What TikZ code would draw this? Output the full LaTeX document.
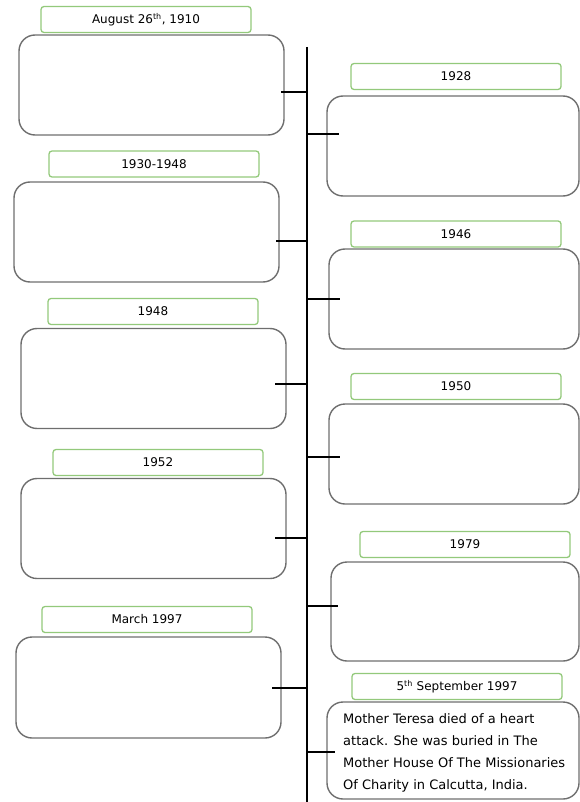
\documentclass[tikz,border=0pt]{standalone}
\usepackage{fontspec}
\setmainfont{DejaVu Sans}
\usepackage{tikz}
\usetikzlibrary{positioning}
\definecolor{datagreen}{HTML}{93C97B}
\definecolor{boxgray}{HTML}{6E6E6E}
\tikzset{
	datebox/.style={draw=datagreen, line width=1.3pt, rounded corners=3pt, minimum width=210pt, minimum height=26pt, inner sep=0pt, font=\fontsize{12}{14}\selectfont},
	evbox/.style={draw=boxgray, line width=1.4pt, rounded corners=16pt, minimum height=100pt, inner sep=0pt},
	tick/.style={line width=1.6pt}
}

\begin{document}
\begin{tikzpicture}[x=1pt, y=-1pt]
	\useasboundingbox (0,0) rectangle (580,802);
	% timeline
	\coordinate (top) at (307,47);
	\coordinate (bot) at (307,802);
	\draw [line width=2.6pt](top)--(bot);

	% left side
	\node [datebox] (D1) at (146,19.5) {August 26\textsuperscript{th}, 1910};
	\node [evbox, minimum width=265pt] (L1) at (151.5,85) {};
	\node [datebox] (D2) at (154,164) {1930-1948};
	\node [evbox, minimum width=265pt] (L2) at (146.5,232) {};
	\node [datebox] (D3) at (153,311.5) {1948};
	\node [evbox, minimum width=265pt] (L3) at (153.5,378.5) {};
	\node [datebox] (D4) at (158,462.5) {1952};
	\node [evbox, minimum width=265pt] (L4) at (153.5,528.5) {};
	\node [datebox] (D5) at (147,619.5) {March 1997};
	\node [evbox, minimum width=265pt, minimum height=101pt] (L5) at (148.5,687.5) {};

	% right side
	\node [datebox] (E1) at (456,76.5) {1928};
	\node [evbox, minimum width=252pt] (R1) at (453,146) {};
	\node [datebox] (E2) at (456,234) {1946};
	\node [evbox, minimum width=250pt] (R2) at (454,299) {};
	\node [datebox] (E3) at (456,386.5) {1950};
	\node [evbox, minimum width=250pt] (R3) at (454,454) {};
	\node [datebox] (E4) at (465,544.5) {1979};
	\node [evbox, minimum width=248pt, minimum height=99pt] (R4) at (455,611.5) {};
	\node [datebox] (E5) at (457,686.5) {5\textsuperscript{th} September 1997};
	\node [evbox, minimum width=252pt, minimum height=97pt] (R5) at (453,750.5) {};
	\node [anchor=north west, align=left, inner sep=0pt, font=\fontsize{13}{22}\selectfont] (T5) at (343,713)
		{Mother Teresa died of a heart\\attack. She was buried in The\\Mother House Of The Missionaries\\Of Charity in Calcutta, India.};

	% ticks
	\coordinate (s1) at (307,92);  \coordinate (s2) at (307,241);
	\coordinate (s3) at (307,384); \coordinate (s4) at (307,538);
	\coordinate (s5) at (307,688);
	\coordinate (r1) at (307,134); \coordinate (r2) at (307,299);
	\coordinate (r3) at (307,457); \coordinate (r4) at (307,606);
	\coordinate (r5) at (307,752);
	\draw [tick](s1)--([xshift=-4pt]s1 -| L1.east);
	\draw [tick](s2)--([xshift=-4pt]s2 -| L2.east);
	\draw [tick](s3)--([xshift=-12pt]s3 -| L3.east);
	\draw [tick](s4)--([xshift=-12pt]s4 -| L4.east);
	\draw [tick](s5)--([xshift=-10pt]s5 -| L5.east);
	\draw [tick](r1)--([xshift=13pt]r1 -| R1.west);
	\draw [tick](r2)--([xshift=12pt]r2 -| R2.west);
	\draw [tick](r3)--([xshift=12pt]r3 -| R3.west);
	\draw [tick](r4)--([xshift=8pt]r4 -| R4.west);
	\draw [tick](r5)--([xshift=9pt]r5 -| R5.west);
\end{tikzpicture}
\end{document}
